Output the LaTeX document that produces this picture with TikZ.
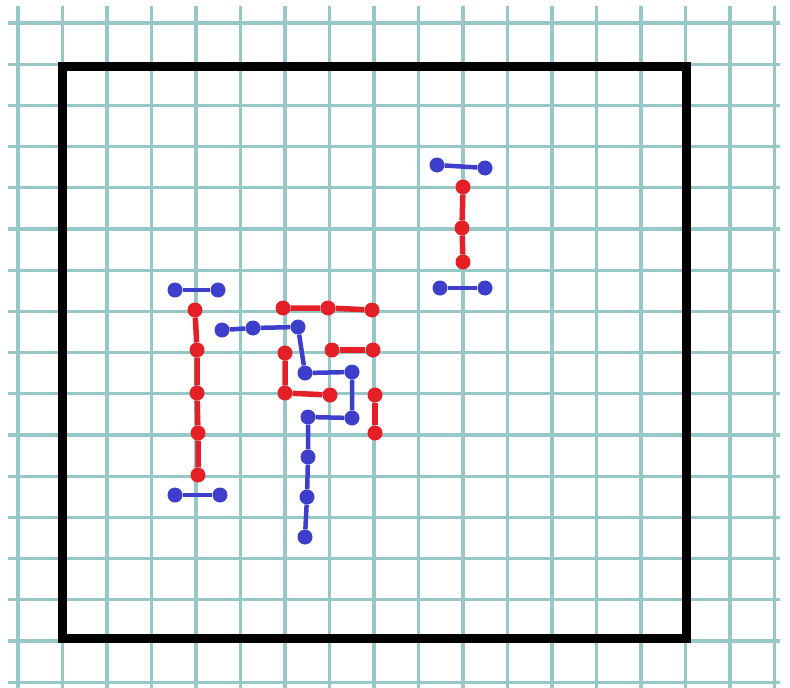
\documentclass[tikz,border=0pt]{standalone}
\definecolor{gridc}{RGB}{150,200,200}
\definecolor{redc}{RGB}{228,32,38}
\definecolor{bluec}{RGB}{62,62,205}
\begin{document}
\begin{tikzpicture}[x=1pt,y=-1pt,
 rdot/.style={circle,fill=redc,inner sep=0pt,minimum size=15pt},
 bdot/.style={circle,fill=bluec,inner sep=0pt,minimum size=15pt},
 rline/.style={draw=redc,line width=5.5pt},
 bline/.style={draw=bluec,line width=4.5pt},
 gridline/.style={draw=gridc,line width=3.2pt}]
\fill[white] (0,0) rectangle (790,688);
\useasboundingbox (0,0) rectangle (790,688);
\foreach \i in {0,...,17} \draw[gridline] ({18+44.5*\i},6) -- ({18+44.5*\i},688);
\foreach \j in {0,...,16} \draw[gridline] (8,{23+41.2*\j}) -- (780,{23+41.2*\j});
\draw[line width=9pt,line join=miter] (62,66) rectangle (686,638);
% red dots
\node[rdot] (r1) at (195,310) {};
\node[rdot] (r2) at (197,350) {};
\node[rdot] (r3) at (197,393) {};
\node[rdot] (r4) at (198,433) {};
\node[rdot] (r5) at (198,475) {};
\node[rdot] (r6) at (283,308) {};
\node[rdot] (r7) at (328,308) {};
\node[rdot] (r8) at (372,310) {};
\node[rdot] (r9) at (285,353) {};
\node[rdot] (r10) at (285,393) {};
\node[rdot] (r11) at (330,395) {};
\node[rdot] (r12) at (332,350) {};
\node[rdot] (r13) at (373,350) {};
\node[rdot] (r14) at (375,395) {};
\node[rdot] (r15) at (375,433) {};
\node[rdot] (r16) at (463,187) {};
\node[rdot] (r17) at (462,228) {};
\node[rdot] (r18) at (463,262) {};
% blue dots
\node[bdot] (b1) at (175,290) {};
\node[bdot] (b2) at (218,290) {};
\node[bdot] (b3) at (175,495) {};
\node[bdot] (b4) at (220,495) {};
\node[bdot] (b5) at (222,330) {};
\node[bdot] (b6) at (253,328) {};
\node[bdot] (b7) at (298,327) {};
\node[bdot] (b8) at (305,373) {};
\node[bdot] (b9) at (352,372) {};
\node[bdot] (b10) at (352,418) {};
\node[bdot] (b11) at (308,417) {};
\node[bdot] (b12) at (308,457) {};
\node[bdot] (b13) at (307,497) {};
\node[bdot] (b14) at (305,537) {};
\node[bdot] (b15) at (437,165) {};
\node[bdot] (b16) at (485,168) {};
\node[bdot] (b17) at (440,288) {};
\node[bdot] (b18) at (485,288) {};
% red connectors
\draw[rline] (r1) -- (r2) -- (r3) -- (r4) -- (r5);
\draw[rline] (r6) -- (r7) -- (r8);
\draw[rline] (r9) -- (r10) -- (r11);
\draw[rline] (r12) -- (r13);
\draw[rline] (r14) -- (r15);
\draw[rline] (r16) -- (r17) -- (r18);
% blue connectors
\draw[bline] (b1) -- (b2);
\draw[bline] (b3) -- (b4);
\draw[bline] (b5) -- (b6) -- (b7) -- (b8) -- (b9) -- (b10) -- (b11) -- (b12) -- (b13) -- (b14);
\draw[bline] (b15) -- (b16);
\draw[bline] (b17) -- (b18);
\end{tikzpicture}
\end{document}
